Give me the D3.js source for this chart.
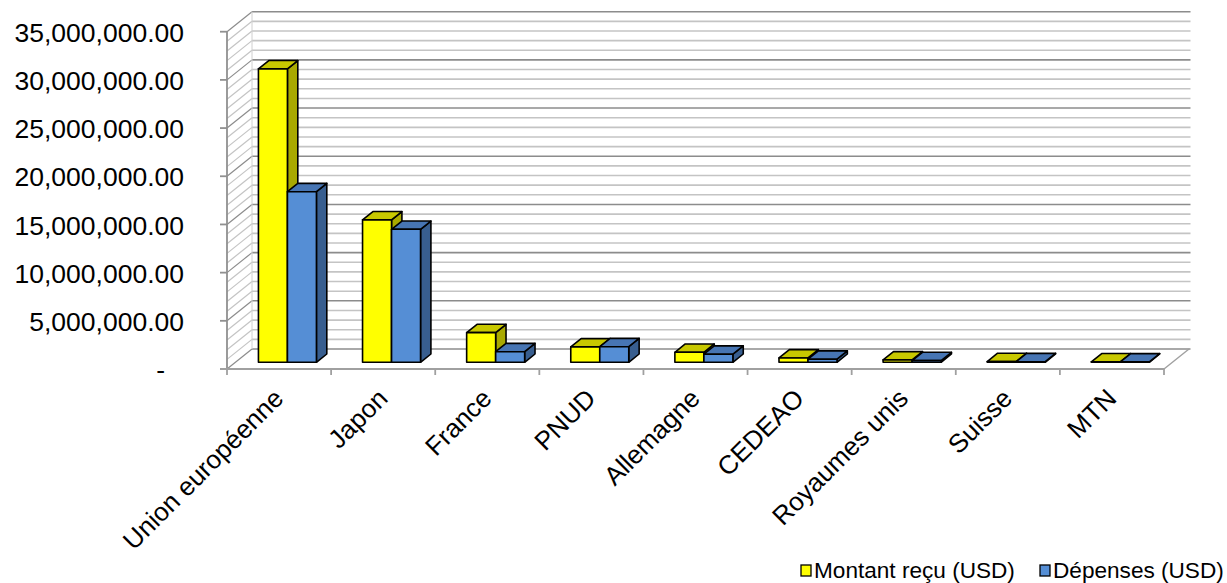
<!DOCTYPE html>
<html>
<head>
<meta charset="utf-8">
<script src="https://cdn.jsdelivr.net/npm/d3@7/dist/d3.min.js"></script>
<style>
  html, body { margin: 0; padding: 0; background: #fff; }
  svg { display: block; }
  text { font-family: "Liberation Sans", Arial, sans-serif; fill: #000; }
</style>
</head>
<body>
<svg id="chart" width="1227" height="583"></svg>
<script>
const categories = ["Union européenne", "Japon", "France", "PNUD", "Allemagne", "CEDEAO", "Royaumes unis", "Suisse", "MTN"];
const seriesNames = ["Montant reçu (USD)", "Dépenses (USD)"];
const montantRecu = [30450000, 14780000, 3080000, 1600000, 1040000, 450000, 250000, 80000, 50000];
const depenses = [17700000, 13800000, 1100000, 1620000, 840000, 320000, 180000, 60000, 40000];
const yTicks = [0, 5000000, 10000000, 15000000, 20000000, 25000000, 30000000, 35000000];
const yMinorStep = 1000000;

(function () {
const seriesValues = [montantRecu, depenses];
const frontColors = ["#FFFF00", "#558ED5"];
const topColors = ["#C8C800", "#4775B3"];
const sideColors = ["#A9A900", "#385E8F"];

const svg = d3.select("#chart");

const pLeft = 227, pRight = 1164, pTop = 31.7, pBottom = 369;
const depth = { dx: 25, dy: -20 };
const barFront = 0.335, barBack = 0.75;

const y = d3.scaleLinear().domain([0, 35000000]).range([pBottom, pTop]);
const x0 = d3.scaleBand().domain(categories).range([pLeft, pRight]).padding(0);
const x1 = d3.scaleBand().domain(seriesNames).range([0, x0.bandwidth()]).paddingInner(0).paddingOuter(0.795);

const minorVals = d3.range(0, 35000000 + 1, yMinorStep);
const isMajor = v => v % 5000000 === 0;

const g = svg.append("g");
minorVals.forEach(v => {
  const col = isMajor(v) ? "#8c8c8c" : "#c4c4c4";
  const yf = y(v);
  g.append("line")
    .attr("x1", pLeft + depth.dx).attr("x2", pRight + depth.dx + 1.5)
    .attr("y1", yf + depth.dy).attr("y2", yf + depth.dy)
    .attr("stroke", col).attr("stroke-width", 1.6);
  g.append("line")
    .attr("x1", pLeft).attr("x2", pLeft + depth.dx)
    .attr("y1", yf).attr("y2", yf + depth.dy)
    .attr("stroke", col).attr("stroke-width", 1.2);
});
g.append("line")
  .attr("x1", pLeft + depth.dx).attr("x2", pLeft + depth.dx)
  .attr("y1", y(35000000) + depth.dy).attr("y2", y(0) + depth.dy)
  .attr("stroke", "#d0d0d0").attr("stroke-width", 1);

g.append("line")
  .attr("x1", pRight).attr("y1", y(0))
  .attr("x2", pRight + depth.dx).attr("y2", y(0) + depth.dy)
  .attr("stroke", "#a0a0a0").attr("stroke-width", 1.5);

g.append("line")
  .attr("x1", pLeft).attr("x2", pLeft)
  .attr("y1", y(35000000)).attr("y2", y(0))
  .attr("stroke", "#909090").attr("stroke-width", 1.8);
yTicks.forEach(v => {
  g.append("line")
    .attr("x1", pLeft - 7).attr("x2", pLeft)
    .attr("y1", y(v)).attr("y2", y(v))
    .attr("stroke", "#909090").attr("stroke-width", 1.8);
});
g.append("line")
  .attr("x1", pLeft - 7).attr("x2", pRight)
  .attr("y1", y(0)).attr("y2", y(0))
  .attr("stroke", "#a0a0a0").attr("stroke-width", 1.8);
const boundaries = categories.map(c => x0(c)).concat([pRight]);
boundaries.forEach(bx => {
  g.append("line")
    .attr("x1", bx).attr("x2", bx)
    .attr("y1", y(0)).attr("y2", y(0) + 6)
    .attr("stroke", "#a0a0a0").attr("stroke-width", 1.8);
});

const fmt = d3.format(",.2f");
svg.append("g").selectAll("text").data(yTicks).join("text")
  .attr("x", d => d === 0 ? 165 : 184)
  .attr("y", d => y(d))
  .attr("dy", "0.38em")
  .attr("text-anchor", "end")
  .attr("font-size", "26.5px")
  .text(d => d === 0 ? "-" : fmt(d));

const bars = svg.append("g");
const fdx = depth.dx * barFront, fdy = depth.dy * barFront;
const bdx = depth.dx * (barBack - barFront), bdy = depth.dy * (barBack - barFront);
categories.forEach((c, i) => {
  seriesNames.forEach((s, k) => {
    const v = seriesValues[k][i];
    const xl = x0(c) + x1(s) + fdx;
    const w = x1.bandwidth();
    const yb = y(0) + fdy;
    const yt = y(v) + fdy;
    const bg = bars.append("g").attr("stroke", "#000").attr("stroke-width", 1.6).attr("stroke-linejoin", "round");
    bg.append("path")
      .attr("d", `M${xl + w},${yb} L${xl + w + bdx},${yb + bdy} L${xl + w + bdx},${yt + bdy} L${xl + w},${yt} Z`)
      .attr("fill", sideColors[k]);
    bg.append("path")
      .attr("d", `M${xl},${yt} L${xl + bdx},${yt + bdy} L${xl + w + bdx},${yt + bdy} L${xl + w},${yt} Z`)
      .attr("fill", topColors[k]);
    bg.append("rect")
      .attr("x", xl).attr("y", yt)
      .attr("width", w).attr("height", Math.max(0, yb - yt))
      .attr("fill", frontColors[k]);
  });
});

svg.append("g").selectAll("text").data(categories).join("text")
  .attr("transform", d => `translate(${x0(d) + x0.bandwidth() / 2 + 6},${y(0) + 31}) rotate(-45)`)
  .attr("text-anchor", "end")
  .attr("font-size", "26px")
  .text(d => d);

const legend = svg.append("g");
const legendX = [801, 1040];
seriesNames.forEach((s, k) => {
  const lx = legendX[k];
  legend.append("rect")
    .attr("x", lx).attr("y", 565).attr("width", 10).attr("height", 11)
    .attr("fill", frontColors[k]).attr("stroke", "#000").attr("stroke-width", 1.3);
  legend.append("text")
    .attr("x", lx + 13).attr("y", 578)
    .attr("font-size", "22.6px")
    .text(s);
});
})();
</script>
</body>
</html>
